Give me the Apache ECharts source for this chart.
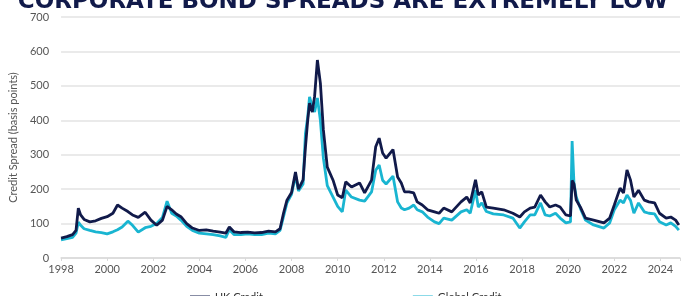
<!DOCTYPE html>
<html>
<head>
<meta charset="utf-8">
<style>
  html, body { margin: 0; padding: 0; background: #fff; }
  #chart-container { width: 686px; height: 296px; }
</style>
<script src="https://cdn.jsdelivr.net/npm/echarts@6/dist/echarts.min.js"></script>
</head>
<body>
<div id="chart-container"></div>
<script>
  // dates as decimal years, spreads in basis points
  var dates = [
    1998.00, 1998.25, 1998.50, 1998.65, 1998.75, 1998.85, 1999.00, 1999.25, 1999.50, 1999.75,
    2000.00, 2000.25, 2000.45, 2000.65, 2000.90, 2001.10, 2001.35, 2001.65, 2001.90, 2002.15,
    2002.40, 2002.60, 2002.80, 2003.00, 2003.20, 2003.45, 2003.70, 2004.00, 2004.30, 2004.60,
    2004.90, 2005.15, 2005.30, 2005.50, 2005.80, 2006.10, 2006.40, 2006.70, 2007.00, 2007.30,
    2007.50, 2007.65, 2007.80, 2008.00, 2008.17, 2008.30, 2008.50, 2008.60, 2008.70, 2008.78,
    2008.90, 2009.00, 2009.12, 2009.25, 2009.38, 2009.55, 2009.80, 2010.00, 2010.20, 2010.35,
    2010.60, 2010.95, 2011.17, 2011.47, 2011.65, 2011.80, 2011.95, 2012.10, 2012.40, 2012.60,
    2012.76, 2012.90, 2013.10, 2013.30, 2013.45, 2013.67, 2013.90, 2014.20, 2014.40, 2014.60,
    2014.95, 2015.35, 2015.60, 2015.75, 2015.98, 2016.10, 2016.25, 2016.45, 2016.75, 2017.20,
    2017.60, 2017.90, 2018.10, 2018.35, 2018.55, 2018.80, 2019.00, 2019.20, 2019.45, 2019.65,
    2019.90, 2020.10, 2020.17, 2020.25, 2020.35, 2020.55, 2020.75, 2021.10, 2021.55, 2021.80,
    2022.00, 2022.25, 2022.40, 2022.55, 2022.70, 2022.85, 2023.05, 2023.30, 2023.50, 2023.75,
    2023.96, 2024.25, 2024.45, 2024.66, 2024.80
  ];

  var ukCredit = [
    58, 62, 68, 80, 145, 125, 112, 105, 108, 115,
    120, 130, 154, 145, 135, 125, 118, 133, 110, 95,
    110, 150, 140, 128, 120, 100, 87, 80, 82, 78,
    75, 72, 90, 76, 74, 75, 73, 74, 78, 76,
    85, 130, 168, 190, 250, 200, 227, 320, 400, 450,
    424, 470, 575, 508, 372, 264, 226, 183, 175, 221,
    206, 218, 189, 226, 323, 348, 305, 290, 315, 235,
    218, 192, 192, 189, 163, 154, 140, 134, 130, 145,
    134, 163, 177, 160, 227, 183, 192, 148, 145, 140,
    130, 119, 134, 145, 148, 183, 163, 148, 154, 148,
    125, 122, 225, 215, 168, 145, 116, 110, 102, 116,
    154, 203, 189, 256, 227, 177, 197, 168, 163, 160,
    130, 116, 119, 110, 96
  ];

  var globalCredit = [
    53, 56, 60, 72, 104, 95, 85, 80, 76, 74,
    70, 76, 82, 90, 107, 95, 75, 88, 92, 100,
    118, 165, 130, 122, 110, 92, 80, 72, 70, 68,
    64, 60, 82, 68, 68, 70, 68, 68, 72, 70,
    80, 120, 160, 185, 240, 195, 215, 360, 410, 468,
    440, 424, 465, 400, 290, 210, 177, 150, 134, 197,
    177, 168, 165, 192, 255, 270, 226, 215, 238, 163,
    145, 140, 145, 154, 140, 134, 119, 105, 100, 116,
    110, 134, 140, 130, 197, 148, 160, 135, 128, 125,
    116, 87, 105, 125, 125, 160, 125, 122, 130, 116,
    102, 105, 340, 218, 177, 140, 110, 96, 87, 102,
    140, 168, 160, 183, 168, 130, 160, 134, 130, 128,
    105, 96, 102, 92, 81
  ];

  var yearTicks = [1998, 2000, 2002, 2004, 2006, 2008, 2010, 2012, 2014, 2016, 2018, 2020, 2022, 2024];

  function pairs(values) {
    return dates.map(function (d, i) { return [d, values[i]]; });
  }

  var dom = document.getElementById('chart-container');
  var myChart = echarts.init(dom, null, { renderer: 'canvas' });

  var options = {
    animation: false,
    textStyle: { fontFamily: 'Lato' },
    graphic: [
      {
        type: 'text',
        left: 'center',
        top: -9,
        style: {
          text: 'CORPORATE BOND SPREADS ARE EXTREMELY LOW',
          font: 'bold 23px "DejaVu Sans"',
          fill: '#111a4a'
        }
      }
    ],
    grid: { left: 57, right: 6, top: 17, bottom: 38 },
    legend: {
      left: 185,
      top: 287,
      itemGap: 150,
      itemWidth: 20,
      itemHeight: 4,
      icon: 'rect',
      textStyle: { fontSize: 11, color: '#333' },
      data: ['UK Credit', 'Global Credit']
    },
    xAxis: {
      type: 'value',
      min: 1998,
      max: 2024.85,
      interval: 2,
      axisLine: { lineStyle: { color: '#d9d9d9', width: 1.5 } },
      axisTick: { show: true, length: 3, lineStyle: { color: '#d9d9d9' } },
      splitLine: { show: false },
      axisLabel: {
        color: '#555',
        fontSize: 11,
        margin: 6,
        formatter: function (v) {
          return yearTicks.indexOf(v) >= 0 ? String(v) : '';
        }
      }
    },
    yAxis: {
      type: 'value',
      min: 0,
      max: 700,
      interval: 100,
      name: 'Credit Spread (basis points)',
      nameLocation: 'middle',
      nameGap: 36,
      nameTextStyle: { color: '#555', fontSize: 11 },
      axisLine: { show: false },
      axisTick: { show: false },
      axisLabel: { color: '#555', fontSize: 11, margin: 12 },
      splitLine: { lineStyle: { color: '#e3e3e3', width: 1.5 } }
    },
    series: [
      {
        name: 'Global Credit',
        type: 'line',
        data: pairs(globalCredit),
        showSymbol: false,
        lineStyle: { width: 2.8, color: '#19b5d1' },
        itemStyle: { color: '#19b5d1' }
      },
      {
        name: 'UK Credit',
        type: 'line',
        data: pairs(ukCredit),
        showSymbol: false,
        lineStyle: { width: 2.8, color: '#111a4a' },
        itemStyle: { color: '#111a4a' }
      }
    ]
  };

  myChart.setOption(options);
</script>
</body>
</html>
